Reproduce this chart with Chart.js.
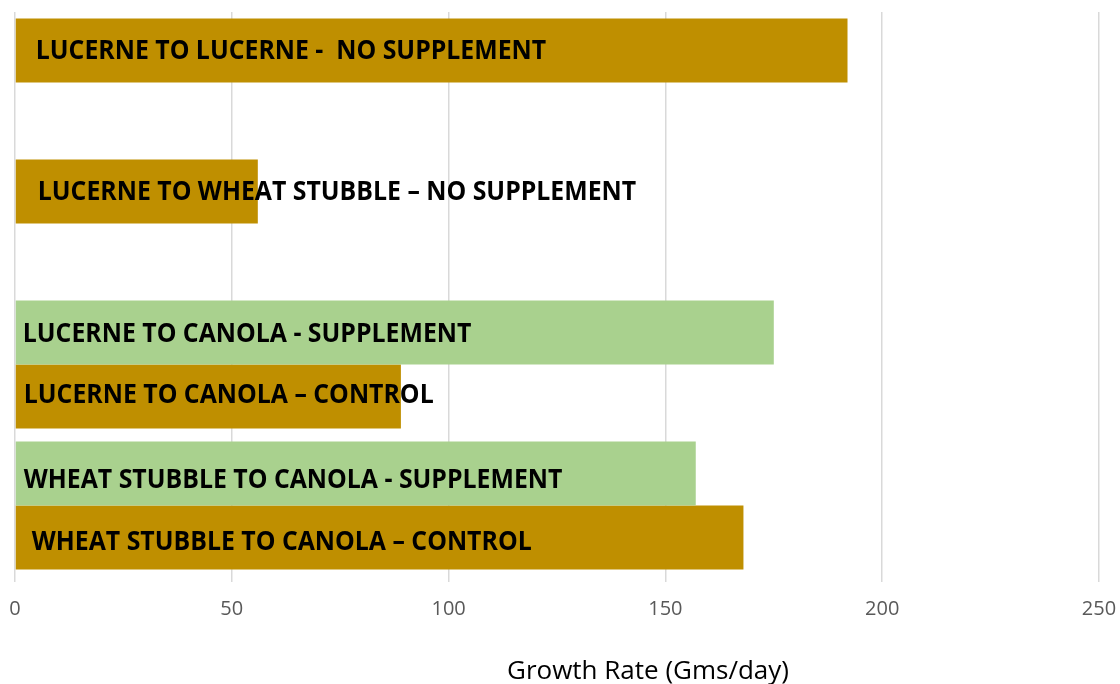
<!DOCTYPE html>
<html>
<head>
<meta charset="utf-8">
<script src="https://cdn.jsdelivr.net/npm/chart.js@4/dist/chart.umd.min.js"></script>
<style>
  html, body { margin: 0; padding: 0; background: #fff; }
  #wrap { width: 1120px; height: 684px; }
</style>
</head>
<body>
<div id="wrap"><canvas id="bars"></canvas></div>
<script>
'use strict';

// data
const categories = ['Lucerne to Lucerne', 'Lucerne to Wheat Stubble', 'Lucerne to Canola', 'Wheat Stubble to Canola'];
const topValues = [192, 56, 175, 157];
const bottomValues = [null, null, 89, 168];
const topLabels = [
  'LUCERNE TO LUCERNE -  NO SUPPLEMENT',
  'LUCERNE TO WHEAT STUBBLE \u2013 NO SUPPLEMENT',
  'LUCERNE TO CANOLA - SUPPLEMENT',
  'WHEAT STUBBLE TO CANOLA - SUPPLEMENT'
];
const bottomLabels = [null, null, 'LUCERNE TO CANOLA \u2013 CONTROL', 'WHEAT STUBBLE TO CANOLA \u2013 CONTROL'];
const xTicks = [0, 50, 100, 150, 200, 250];
const xTitle = 'Growth Rate (Gms/day)';

const gold = '#BF8F00';
const green = '#A9D18E';
const topColors = [gold, gold, green, green];

// text drawn inside the bars, like the excel data labels
const barText = {
  id: 'barText',
  afterDatasetsDraw(chart, args, opts) {
    const ctx = chart.ctx;
    const labelSets = [topLabels, bottomLabels];
    ctx.save();
    ctx.font = opts.font;
    ctx.fillStyle = '#000';
    ctx.textBaseline = 'middle';
    ctx.textAlign = 'left';
    labelSets.forEach((labels, d) => {
      const meta = chart.getDatasetMeta(d);
      meta.data.forEach((bar, i) => {
        if (!labels[i]) return;
        const off = opts.offsets[d][i];
        ctx.save();
        ctx.translate(bar.base + off[0], bar.y + off[1]);
        ctx.scale(opts.squeeze, 1);
        ctx.fillText(labels[i], 0, 0);
        ctx.restore();
      });
    });
    // axis title (sits right of centre in the original)
    const xs = chart.scales.x;
    ctx.font = '26px "Open Sans"';
    ctx.fillStyle = '#000';
    ctx.textAlign = 'center';
    ctx.fillText(xTitle, (xs.left + xs.right) / 2 + opts.titleShift, chart.height - 12);
    ctx.restore();
  }
};

const barConfig = {
  type: 'bar',
  data: {
    labels: categories,
    datasets: [
      {
        label: 'top',
        data: topValues,
        backgroundColor: topColors,
        borderWidth: 0,
        barPercentage: 1,
        categoryPercentage: 0.908
      },
      {
        label: 'bottom',
        data: bottomValues,
        backgroundColor: gold,
        borderWidth: 0,
        barPercentage: 1,
        categoryPercentage: 0.908
      }
    ]
  },
  options: {
    indexAxis: 'y',
    responsive: true,
    maintainAspectRatio: false,
    animation: false,
    layout: { padding: { top: 12, left: 0, right: 0, bottom: 48 } },
    plugins: {
      legend: { display: false },
      tooltip: { enabled: false },
      barText: {
        font: 'bold 27px "Open Sans"',
        squeeze: 0.92,
        titleShift: 91,
        offsets: [
          [[20, 1], [22, 1], [7, 2], [8, 7]],
          [null, null, [8, -1], [16, 5]]
        ]
      }
    },
    scales: {
      x: {
        min: 0,
        max: 250,
        afterBuildTicks: (axis) => { axis.ticks = xTicks.map(v => ({ value: v })); },
        // fixed side margins so the axis runs from x=15 to x=1099
        afterFit: (axis) => { axis.paddingLeft = 15; axis.paddingRight = 21; },
        grid: { color: '#D9D9D9', lineWidth: 1.5, drawTicks: true, tickLength: 6 },
        border: { display: false },
        ticks: {
          color: '#595959',
          padding: 15,
          font: { family: '"Open Sans"', size: 20 }
        }
      },
      y: {
        display: false
      }
    }
  },
  plugins: [barText]
};

const barsCtx = document.getElementById('bars');
window.myBar = new Chart(barsCtx, barConfig);
</script>
</body>
</html>
